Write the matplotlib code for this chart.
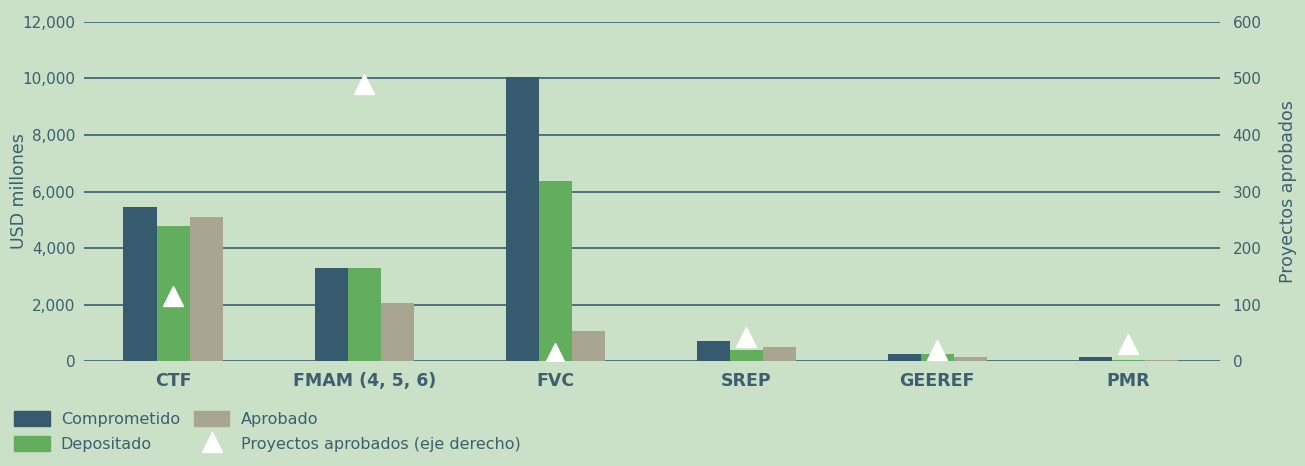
import matplotlib.pyplot as plt
from matplotlib.patches import Patch
from matplotlib.lines import Line2D
import numpy as np

# ------------------------------------------------
# DATA
# ------------------------------------------------
fondos = ["CTF", "FMAM (4, 5, 6)", "FVC", "SREP", "GEEREF", "PMR"]
comprometido = [5450, 3300, 10050, 710, 250, 150]
depositado = [4780, 3300, 6370, 390, 250, 40]
aprobado = [5100, 2050, 1060, 500, 150, 50]
proyectos = [115, 490, 14, 42, 19, 30]

left_ticks = [0, 2000, 4000, 6000, 8000, 10000, 12000]
right_ticks = [0, 100, 200, 300, 400, 500, 600]

# ------------------------------------------------
# STYLE
# ------------------------------------------------
BG = "#CAE0C7"
C_COMP = "#365B6E"
C_DEP = "#62AD5E"
C_APR = "#A8A690"
TXT = "#3D6070"
GRID = "#43677A"

plt.rcParams["font.family"] = ["DejaVu Sans"]

fig = plt.figure(figsize=(13.05, 4.66), dpi=100, facecolor=BG)
ax = fig.add_axes([0.0644, 0.2253, 0.8705, 0.7275])
ax.set_facecolor(BG)

x = np.arange(len(fondos))
w = 0.173
ax.bar(x - w, comprometido, w, color=C_COMP, zorder=3)
ax.bar(x, depositado, w, color=C_DEP, zorder=3)
ax.bar(x + w, aprobado, w, color=C_APR, zorder=3)

ax.set_xlim(-0.466, 5.48)
ax.set_ylim(0, 12000)
ax.set_yticks(left_ticks)
ax.set_yticklabels([f"{v:,}" for v in left_ticks])
ax.set_xticks(x)
ax.set_xticklabels(fondos, fontweight="bold", fontsize=12.5)
ax.grid(axis="y", color=GRID, linewidth=1.3, zorder=0)
ax.tick_params(axis="y", length=0, pad=6, labelsize=11, labelcolor=TXT)
ax.tick_params(axis="x", length=0, pad=8, labelcolor=TXT)
for s in ax.spines.values():
    s.set_visible(False)
ax.set_ylabel("USD millones", fontsize=12.5, color=TXT)
ax.yaxis.set_label_coords(-0.049, 0.5)

ax2 = ax.twinx()
ax2.set_ylim(0, 600)
ax2.set_yticks(right_ticks)
ax2.plot(x, proyectos, linestyle="none", marker="^", markersize=15,
         color="white", zorder=5)
ax2.tick_params(axis="y", length=0, pad=9, labelsize=11, labelcolor=TXT)
for s in ax2.spines.values():
    s.set_visible(False)
ax2.set_ylabel("Proyectos aprobados", fontsize=12.5, color=TXT)
ax2.yaxis.set_label_coords(1.052, 0.5)

# legend
handles = [
    Patch(color=C_COMP, label="Comprometido"),
    Patch(color=C_DEP, label="Depositado"),
    Patch(color=C_APR, label="Aprobado"),
    Line2D([], [], linestyle="none", marker="^", markersize=14,
           color="white", label="Proyectos aprobados (eje derecho)"),
]
leg = fig.legend(handles=handles, ncol=2, loc="lower left",
                 bbox_to_anchor=(0.0, 0.0), frameon=False,
                 prop={"size": 11.5}, labelcolor=TXT,
                 handlelength=2.2, handleheight=1.1, handletextpad=0.7,
                 columnspacing=0.9, labelspacing=0.55)

fig.savefig("out.png", dpi=100, facecolor=BG)
